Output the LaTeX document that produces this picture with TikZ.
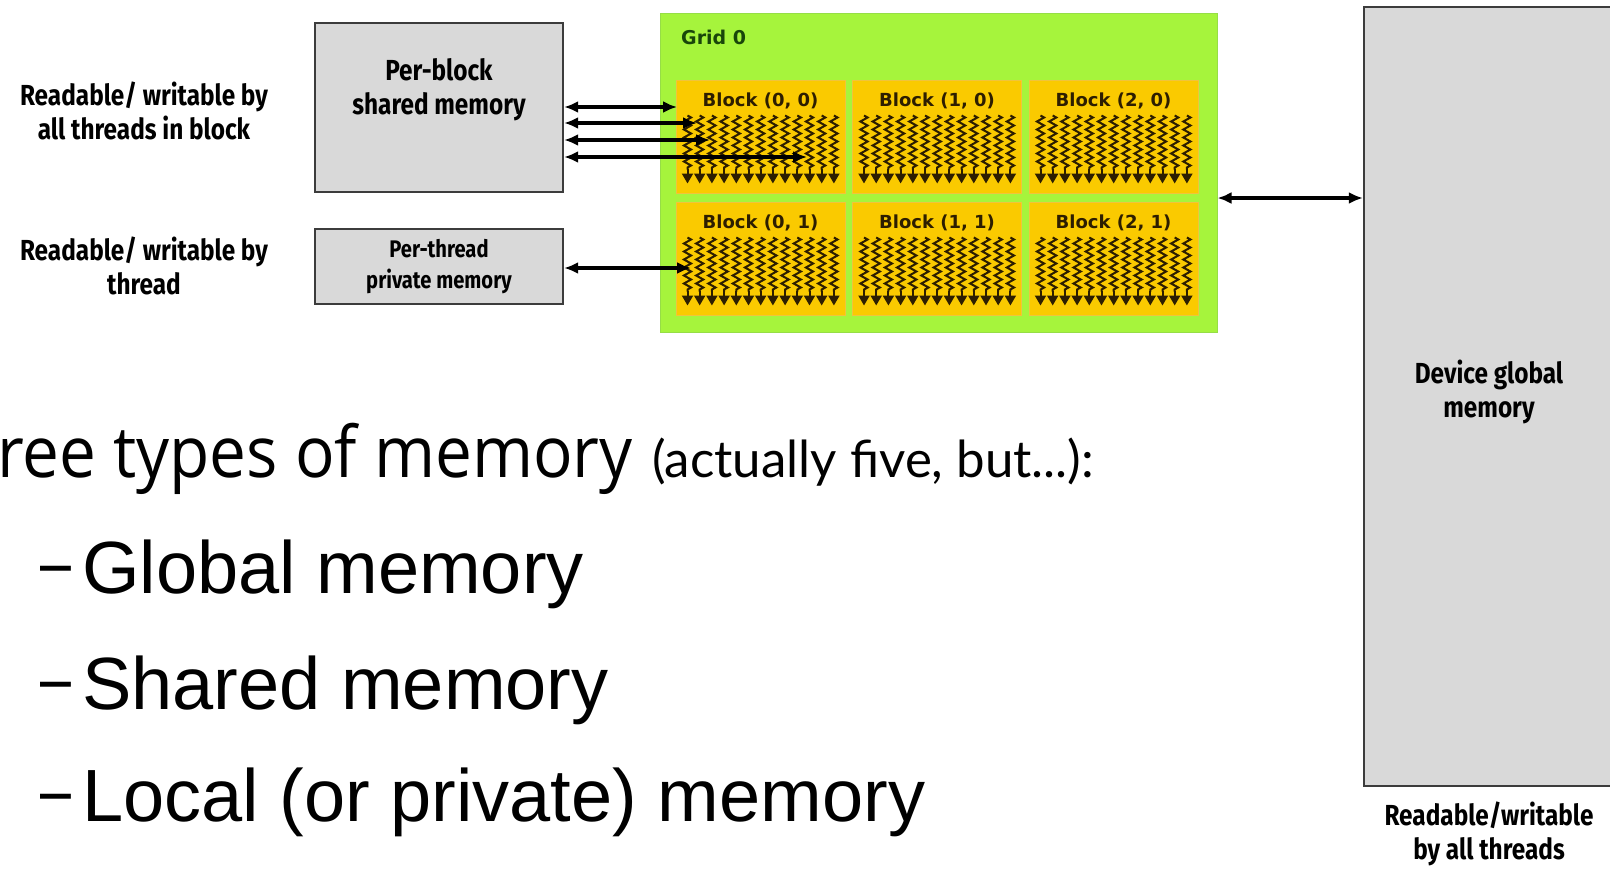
\documentclass[tikz,border=0pt]{standalone}
\usepackage{fontspec}
\usepackage{graphicx}
\usetikzlibrary{arrows.meta,decorations.pathmorphing,positioning}

\newfontfamily\labelfont[FakeStretch=0.84]{Fira Sans}
\newfontfamily\blockfont{DejaVu Sans}
\newfontfamily\slidefont{Open Sans}
\newfontfamily\notefont{Lato}
\newfontfamily\itemfont{Liberation Sans}

\definecolor{gridgreen}{RGB}{166,244,60}
\definecolor{gridedge}{RGB}{150,222,70}
\definecolor{blockyellow}{RGB}{250,202,0}
\definecolor{blockedge}{RGB}{240,196,60}
\definecolor{memgray}{RGB}{217,217,217}
\definecolor{memedge}{RGB}{60,60,60}
\definecolor{threaddark}{RGB}{45,30,0}
\definecolor{gridtext}{RGB}{25,70,10}

% the threads of one block, as wavy down arrows
\newcommand{\threadrow}[1]{%
  \begin{scope}[shift={(#1.north west)}]
    \foreach \i in {0,...,12} {
      \draw[thread] (12+12.2*\i,36) -- (12+12.2*\i,90);
      \draw[threadtip] (12+12.2*\i,89) -- (12+12.2*\i,104);
    }
  \end{scope}}

\begin{document}
\begin{tikzpicture}[
    x=1pt, y=-1pt,
    membox/.style={draw=memedge, line width=2.2pt, fill=memgray, inner sep=0pt},
    block/.style={draw=blockedge, line width=1pt, fill=blockyellow,
                  minimum width=169pt, minimum height=113pt, inner sep=0pt},
    blocklabel/.style={inner sep=0pt, anchor=north, text=threaddark,
                  font=\blockfont\bfseries\fontsize{18}{20}\selectfont},
    sidetext/.style={align=center, inner sep=0pt,
                  font=\labelfont\bfseries\fontsize{29}{34}\selectfont},
    thread/.style={draw=threaddark, line width=2pt, decorate,
                  decoration={zigzag, segment length=8pt, amplitude=3.6pt}},
    threadtip/.style={draw=threaddark, line width=2pt,
                  -{Triangle[length=10pt,width=11pt]}},
    memarrow/.style={line width=3.2pt, {Latex[length=14pt,width=12pt]}-{Latex[length=14pt,width=12pt]}},
    itemtext/.style={anchor=base west, inner sep=0pt,
                  font=\itemfont\fontsize{74}{80}\selectfont},
  ]
  \fill[white] (0,0) rectangle (1610,868);
  \useasboundingbox (0,0) rectangle (1610,868);

  % memory boxes
  \node[membox, minimum width=248pt, minimum height=169pt] (shared) at (439,107.5) {};
  \node[sidetext] (sharedtext) at (439,90) {Per-block\\shared memory};
  \node[membox, minimum width=248pt, minimum height=75pt, align=center,
        font=\labelfont\bfseries\fontsize{24}{31}\selectfont] (private) at (439,266.5)
        {Per-thread\\private memory};
  \node[membox, minimum width=261pt, minimum height=779pt] (global) at (1494.5,396.5) {};
  \node[sidetext] (globaltext) at (1489,392) {Device global\\memory};

  % grid with its blocks
  \node[draw=gridedge, line width=1pt, fill=gridgreen, minimum width=557pt,
        minimum height=319pt, inner sep=0pt] (grid) at (938.5,172.5) {};
  \node[anchor=west, inner sep=0pt, text=gridtext,
        font=\blockfont\bfseries\fontsize{19}{20}\selectfont] (gridtitle) at (681,37) {Grid 0};
  \foreach \c in {0,1,2}
    \foreach \r in {0,1} {
      \node[block] (b\c\r) at (760.5+176.5*\c,136.5+122*\r) {};
      \node[blocklabel, below=13pt of b\c\r.north] {Block (\c, \r)};
      \threadrow{b\c\r}
    }

  % side labels
  \node[sidetext] (rwblock) at (144,111) {Readable/ writable by\\all threads in block};
  \node[sidetext] (rwthread) at (144,266) {Readable/ writable by\\thread};
  \node[sidetext] (rwall) at (1489,834) {Readable/writable\\by all threads};

  % connectors
  \coordinate (s1) at (677,107);
  \coordinate (s2) at (697,123);
  \coordinate (s3) at (710,140);
  \coordinate (s4) at (807,157);
  \foreach \s in {s1,s2,s3,s4}
    \draw[memarrow] (shared.east |- \s) -- (\s);
  \coordinate (p1) at (691,268);
  \draw[memarrow] (private.east |- p1) -- (p1);
  \coordinate (g1) at (1290,198);
  \draw[memarrow] (grid.east |- g1) -- (global.west |- g1);

  % slide text
  \node[anchor=base west, inner sep=0pt] (title) at (-3,477)
    {\slidefont\fontsize{71}{80}\selectfont\scalebox{0.925}[1]{ree types of memory}};
  \node[anchor=base west, inner sep=0pt] (note) at (652,477)
    {\notefont\fontsize{51}{56}\selectfont (actually five, but...):};
  \foreach \t/\y in {Global memory/593, Shared memory/709, Local (or private) memory/821} {
    \node[itemtext] at (40,\y) {\raisebox{6pt}{\scalebox{0.75}[1]{–}}};
    \node[itemtext] at (82,\y) {\t};
  }
\end{tikzpicture}
\end{document}
